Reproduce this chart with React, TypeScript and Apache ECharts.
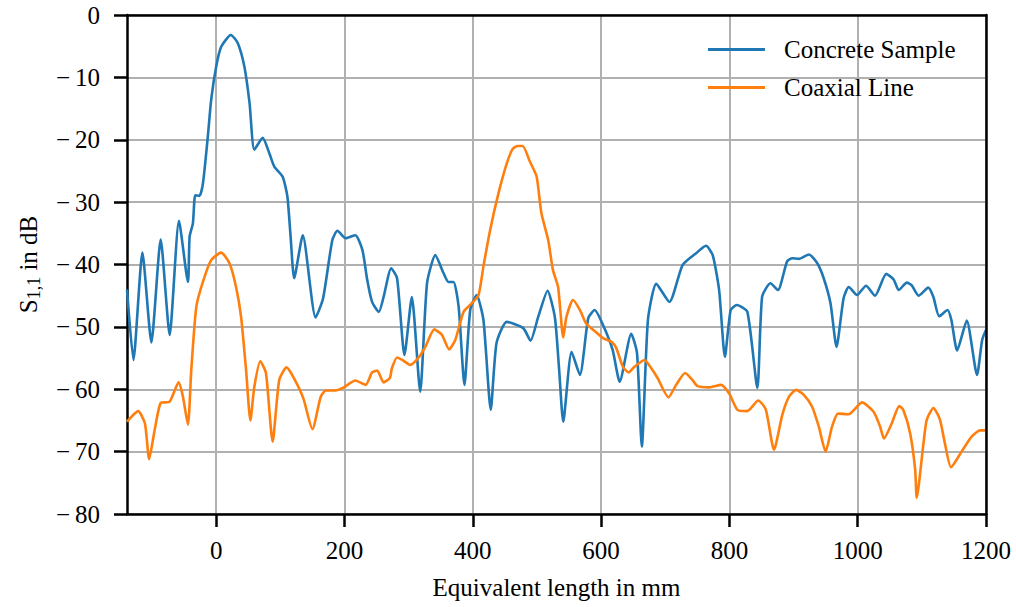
import React, { useEffect, useRef } from "react";
import * as echarts from "echarts";

const concreteLength = [
  -139, -129, -115, -101, -86.5, -72.5, -58, -44, -41.4, -36.3, -32.6, -26, -20.6, -13, -7.8, 0, 7.8, 23, 33.6, 44,
  52, 59.5, 72.5, 83, 90.6, 103.5, 111, 116, 121.6, 135, 155, 166.7, 181, 189, 202, 217, 228, 235.5, 243, 253.6,
  261, 272.8, 282, 293.5, 305, 318, 328.7, 341.6, 354.5, 362, 370, 378, 387, 396, 406, 416.6, 428, 437, 453, 478.7,
  490, 502, 516.6, 528, 534.7, 541, 554, 567, 580, 590, 603, 618, 629, 647, 656, 663.5, 673, 686, 706.5, 727,
  748, 763.5, 774, 784, 793, 802, 811.6, 828, 843.6, 851, 864, 875.6, 890, 898, 908, 924, 937, 947, 957.6, 967,
  978, 986, 999, 1013, 1027, 1044.5, 1056, 1064, 1076.6, 1084, 1095, 1110, 1118, 1127, 1140, 1146, 1155, 1170, 1186, 1194,
  1200,
];
const concreteS11 = [
  -44, -55.3, -38.1, -52.5, -36.0, -51.3, -33.0, -42.8, -35.5, -33.4, -28.9, -29.0, -27, -19.5, -13.6, -8.3, -5.1, -3.2, -4.5, -8.3,
  -14.1, -21.6, -19.7, -22.2, -24.3, -25.9, -29.1, -35.5, -42.2, -35.3, -48.5, -45.4, -36.1, -34.6, -35.8, -35.3, -37.7, -42.5, -46.0, -47.6,
  -45.2, -40.6, -42.2, -54.5, -45.2, -60.4, -43.0, -38.5, -41.4, -42.8, -42.8, -46.8, -59.3, -47.3, -44.9, -48.9, -63.3, -52.6, -49.2, -50.2,
  -52.2, -48.4, -44.2, -48.5, -57, -65.2, -54, -57.7, -48.6, -47.3, -49.7, -53.7, -58.8, -51.1, -54.2, -69.2, -48.9, -43.1, -46.0, -40.1,
  -38.2, -37.0, -38.5, -44.1, -54.8, -47.3, -46.5, -47.6, -59.8, -45.2, -43.0, -44.1, -39.5, -39.0, -39.1, -38.4, -39.8, -42.2, -46.2, -53.2,
  -45.4, -43.6, -44.9, -43.4, -45.0, -41.5, -42.4, -44.1, -42.9, -43.3, -45, -43.7, -45.2, -48.3, -47.3, -48.9, -53.8, -49.0, -57.7, -52.1,
  -50.5,
];

const coaxLength = [
  -139, -121.6, -111, -104.5, -95.8, -86.5, -72.5, -58.5, -51.8, -44, -38.8, -31, -20.7, -7.8, 7.8, 20.7, 31, 38.8, 46.6, 53.3,
  59.5, 68.8, 77.6, 88, 98.3, 109.8, 121.6, 136, 150, 163, 171, 186, 199, 217, 233, 243, 251, 261, 270.7, 274,
  282, 290, 302.8, 315.7, 326, 340, 352, 363, 372.7, 385.6, 398.6, 409, 416.6, 427, 440, 453, 462, 470, 477.8, 489,
  499.5, 507, 517.6, 525, 533, 541, 546, 556.4, 567, 577, 592.7, 603, 616, 623.7, 634, 643, 652, 667.7, 678, 688,
  705, 717, 731, 743, 750.5, 768.6, 786.8, 799.7, 812.6, 828, 845, 856.6, 869.6, 882.5, 893, 904, 916, 929, 939.4, 950,
  960, 969.4, 986, 1006.7, 1024.8, 1035, 1041, 1053, 1064.7, 1071, 1081.8, 1089.6, 1092, 1102.5, 1107.6, 1118, 1128, 1136, 1145.5, 1162,
  1177.5, 1190.5, 1200,
];
const coaxS11 = [
  -65.2, -63.5, -65.5, -71.2, -66.5, -62.2, -62.0, -58.9, -61.2, -65.7, -56.9, -46.8, -42.8, -39.3, -38.1, -39.8, -43.6, -48.4, -56.9, -65.0,
  -59.6, -55.5, -57.4, -68.4, -58.5, -56.5, -58.3, -61.5, -66.4, -61.2, -60.2, -60.2, -59.7, -58.6, -59.3, -57.3, -57.0, -58.9, -58.2, -56.6,
  -54.9, -55.3, -56.1, -54.9, -53.2, -50.4, -51.3, -53.6, -52.1, -47.6, -46.2, -44.9, -40.3, -34.5, -28.6, -23.8, -21.5, -21.0, -21.0, -23.5,
  -25.9, -31.8, -36.1, -40.9, -43.6, -51.7, -48.4, -45.7, -47.3, -49.5, -50.9, -51.8, -52.4, -53.4, -56.4, -57.3, -56.4, -55.3, -56.6, -58.2,
  -61.3, -59.3, -57.4, -58.6, -59.5, -59.7, -59.3, -60.7, -63.3, -63.5, -61.8, -63.2, -69.7, -64.1, -61.2, -60.1, -60.9, -62.8, -66.0, -70.0,
  -66, -63.9, -64.0, -62.1, -63.6, -66, -67.9, -65.5, -62.7, -63.3, -67.1, -72.9, -77.4, -68.7, -64.9, -63.0, -64.8, -68.7, -72.5, -70.0,
  -67.6, -66.6, -66.6,
];

const xTicks = [0, 200, 400, 600, 800, 1000, 1200];
const seriesNames = ["Concrete Sample", "Coaxial Line"];
const seriesColors = ["#1f77b4", "#ff7f0e"];

const FONT = "Liberation Serif";
const FS = 25;

const spineOnly = {
  axisLine: { show: true, onZero: false, lineStyle: { color: "#000", width: 2.5 } },
  axisTick: { show: false },
  axisLabel: { show: false },
  splitLine: { show: false },
  z: 10,
};

export default function App() {
  const ref = useRef<HTMLDivElement>(null);
  useEffect(() => {
    if (!ref.current) return;
    const chart = echarts.init(ref.current, null, { renderer: "svg" });
    const concreteData = concreteLength.map((x, i) => [x, concreteS11[i]]);
    const coaxData = coaxLength.map((x, i) => [x, coaxS11[i]]);
    chart.setOption({
      animation: false,
      backgroundColor: "#ffffff",
      grid: {
        left: 127,
        right: 30,
        top: 15,
        bottom: 93,
        show: false,
      },
      legend: {
        left: 703,
        top: 31,
        orient: "vertical",
        icon: "rect",
        itemWidth: 57,
        itemHeight: 3,
        itemGap: 11,
        data: seriesNames,
        textStyle: {
          fontFamily: FONT,
          fontSize: FS,
          color: "#000",
          lineHeight: 27,
          padding: [0, 0, 0, 14],
        },
      },
      xAxis: [
        {
          type: "value",
          min: -139,
          max: 1200,
          position: "bottom",
          name: "Equivalent length in mm",
          nameLocation: "middle",
          nameGap: 61,
          nameTextStyle: { fontFamily: FONT, fontSize: FS, color: "#000" },
          axisLine: { show: true, onZero: false, lineStyle: { color: "#000", width: 2.5 } },
          axisTick: { show: true, length: 13, lineStyle: { color: "#000", width: 2.5 }, customValues: xTicks },
          axisLabel: {
            fontFamily: FONT,
            fontSize: FS,
            color: "#000",
            margin: 24,
            customValues: xTicks,
            formatter: (v: number) => String(v),
          },
          splitLine: { show: true, lineStyle: { color: "#b0b0b0", width: 2 } },
        },
        { type: "value", min: -139, max: 1200, position: "top", ...spineOnly },
      ],
      yAxis: [
        {
          type: "value",
          min: -80,
          max: 0,
          interval: 10,
          position: "left",
          name: "{a|S}{sub|1,1}{a| in dB}",
          nameLocation: "middle",
          nameGap: 84,
          nameRotate: 90,
          nameTextStyle: {
            fontFamily: FONT,
            fontSize: FS,
            color: "#000",
            rich: {
              a: { fontFamily: FONT, fontSize: FS, color: "#000", lineHeight: 30, verticalAlign: "middle" },
              sub: { fontFamily: FONT, fontSize: 18, color: "#000", lineHeight: 14, verticalAlign: "bottom" },
            },
          },
          axisLine: { show: true, onZero: false, lineStyle: { color: "#000", width: 2.5 } },
          axisTick: { show: true, length: 13, lineStyle: { color: "#000", width: 2.5 } },
          axisLabel: {
            fontFamily: FONT,
            fontSize: FS,
            color: "#000",
            margin: 27,
            formatter: (v: number) => (v < 0 ? "\u2212\u2009" + Math.abs(v) : String(v)),
          },
          splitLine: { show: true, lineStyle: { color: "#b0b0b0", width: 2 } },
        },
        { type: "value", min: -80, max: 0, interval: 10, position: "right", ...spineOnly },
      ],
      series: [
        {
          name: seriesNames[0],
          type: "line",
          data: concreteData,
          showSymbol: false,
          smooth: 0.2,
          lineStyle: { color: seriesColors[0], width: 2.6 },
          itemStyle: { color: seriesColors[0] },
          z: 3,
        },
        {
          name: seriesNames[1],
          type: "line",
          data: coaxData,
          showSymbol: false,
          smooth: 0.2,
          lineStyle: { color: seriesColors[1], width: 2.6 },
          itemStyle: { color: seriesColors[1] },
          z: 4,
        },
      ],
    });
    return () => chart.dispose();
  }, []);
  return (
    <div
      ref={ref}
      style={{ position: "fixed", left: 0, top: 0, width: 1016, height: 607, background: "#fff" }}
    />
  );
}
